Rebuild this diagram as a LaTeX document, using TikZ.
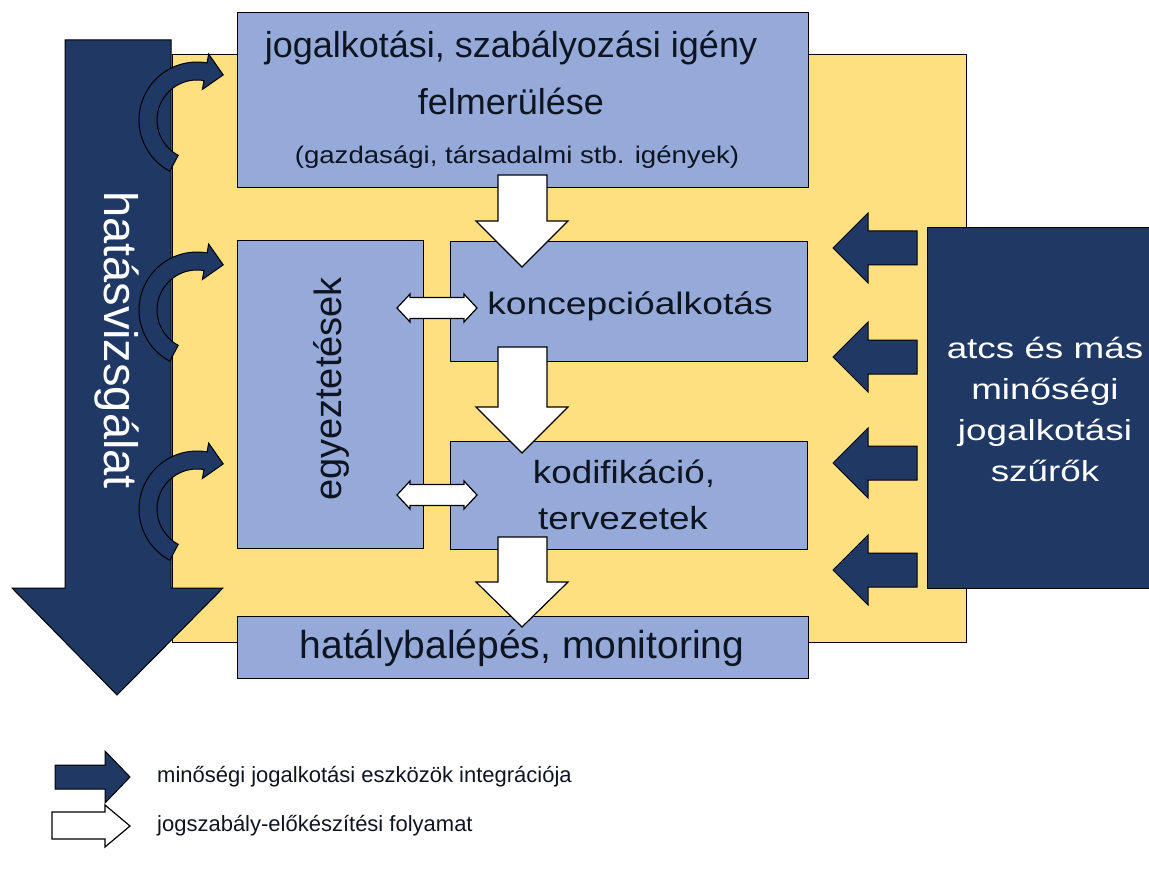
\documentclass[tikz,border=0pt]{standalone}
\usepackage{fontspec}
\setmainfont{Liberation Sans}
\usepackage{graphicx}
\usetikzlibrary{calc}
\definecolor{navy}{HTML}{203864}
\definecolor{boxblue}{HTML}{95AAD9}
\definecolor{ylw}{HTML}{FFE080}
\definecolor{ink}{HTML}{0E1420}
\newcommand{\fsz}[1]{\fontsize{#1}{1.15\dimexpr #1pt\relax}\selectfont}
\newcommand{\wdown}[4]{\draw[whitearr] (498,#2) -- (547,#2) -- (547,#3) -- (568,#3) -- (522,#4) coordinate (#1) -- (476,#3) -- (498,#3) -- cycle;}
\newcommand{\dblarr}[2]{\draw[whitearr] (397,#2) coordinate (#1) -- (410,{#2-14}) -- (410,{#2-10.5}) -- (464,{#2-10.5}) -- (464,{#2-14}) -- (477,#2) -- (464,{#2+14}) -- (464,{#2+10.5}) -- (410,{#2+10.5}) -- (410,{#2+14}) -- cycle;}
\newcommand{\leftarr}[2]{\draw[navyarr] (833,#2) coordinate (#1) -- (868,{#2-35}) -- (868,{#2-17}) -- (917,{#2-17}) -- (917,{#2+17}) -- (868,{#2+17}) -- (868,{#2+35}) -- cycle;}
\newcommand{\curvarr}[2]{%
  \coordinate (#1) at (197,#2);
  \draw[navyarr] plot[domain=118:280, samples=40] ({197+58*cos(\x)}, {#2+58*sin(\x)})
    -- ($(#1)+(280:67)$) -- ($(#1)+(280:49)+(10:18)$) -- ($(#1)+(280:31)$)
    -- plot[domain=280:118, samples=40] ({197+40*cos(\x)}, {#2+40*sin(\x)}) -- cycle;}
\begin{document}
\begin{tikzpicture}[x=1pt,y=-1pt,
  box/.style={draw=black, line width=1.3pt, fill=boxblue, inner sep=0pt, anchor=north west},
  whitearr/.style={draw=black, line width=1.2pt, fill=white, line join=miter},
  navyarr/.style={draw=black, line width=1pt, fill=navy, line join=miter},
  txt/.style={text=ink, inner sep=0pt, align=center},
  wtxt/.style={text=white, inner sep=0pt, align=center}]
\useasboundingbox (0,0) rectangle (1149,869);
\fill[white] (0,0) rectangle (1149,869);
% yellow background
\node[draw=black, line width=1.2pt, fill=ylw, inner sep=0pt, anchor=north west,
  minimum width=794pt, minimum height=588pt] (bg) at (172,54) {};
% big left arrow
\draw[navyarr] (65,40) -- (171,40) -- (171,588) -- (223,588) -- (117,695) coordinate (bigtip) -- (12,588) -- (65,588) -- cycle;
\node[wtxt, rotate=-90] (hv) at (117,340) {\fsz{47}hatásvizsgálat};
% boxes
\node[box, minimum width=571pt, minimum height=175pt] (top) at (237,12) {};
\node[box, minimum width=186pt, minimum height=308pt] (egy) at (237,240) {};
\node[box, minimum width=357pt, minimum height=120pt] (konc) at (450,241) {};
\node[box, minimum width=357pt, minimum height=108pt] (kod) at (450,441) {};
\node[box, minimum width=571pt, minimum height=62pt] (hat) at (237,616) {};
% texts
\node[txt] (t1) at (511,48) {\fsz{36}jogalkotási, szabályozási igény};
\node[txt] (t2) at (511,101) {\fsz{36}felmerülése};
\node[txt] (t3) at (517,157) {\scalebox{1.15}[1]{\fsz{24}(gazdasági, társadalmi stb. igények)}};
\node[txt, rotate=90] (t4) at (331,389) {\fsz{38}egyeztetések};
\node[txt] (t5) at (630,306) {\scalebox{1.2}[1]{\fsz{31}koncepcióalkotás}};
\node[txt] (t6) at (624,474) {\scalebox{1.15}[1]{\fsz{32}kodifikáció,}};
\node[txt] (t7) at (623,518) {\scalebox{1.15}[1]{\fsz{32}tervezetek}};
\node[txt] (t8) at (522,648) {\fsz{39}hatálybalépés, monitoring};
% white process arrows
\wdown{w1}{175}{221}{267}
\wdown{w2}{347}{407}{453}
\wdown{w3}{537}{582}{627}
\dblarr{d1}{308}
\dblarr{d2}{495}
% curved arrows
\curvarr{c1}{120}
\curvarr{c2}{310}
\curvarr{c3}{509}
% right box and arrows
\node[draw=black, line width=1pt, fill=navy, inner sep=0pt, anchor=north west,
  minimum width=230pt, minimum height=361pt] (atcs) at (927,227) {};
\node[wtxt] (atcstxt) at (1045,412) {\scalebox{1.27}[1]{\fontsize{29}{41}\selectfont\begin{tabular}{@{}c@{}}atcs és más\\minőségi\\jogalkotási\\szűrők\end{tabular}}};
\leftarr{r1}{248}
\leftarr{r2}{357}
\leftarr{r3}{463}
\leftarr{r4}{570}
% legend
\draw[navyarr] (55,765) -- (105,765) -- (105,751) -- (130,777) coordinate (l1tip) -- (105,803) -- (105,789) -- (55,789) -- cycle;
\draw[whitearr] (52,812) -- (105,812) -- (105,805) -- (130,826) coordinate (l2tip) -- (105,847) -- (105,839) -- (52,839) -- cycle;
\node[txt, anchor=west] (leg1) at (157,777) {\fsz{22}minőségi jogalkotási eszközök integrációja};
\node[txt, anchor=west] (leg2) at (157,826) {\fsz{22}jogszabály-előkészítési folyamat};
\end{tikzpicture}
\end{document}
